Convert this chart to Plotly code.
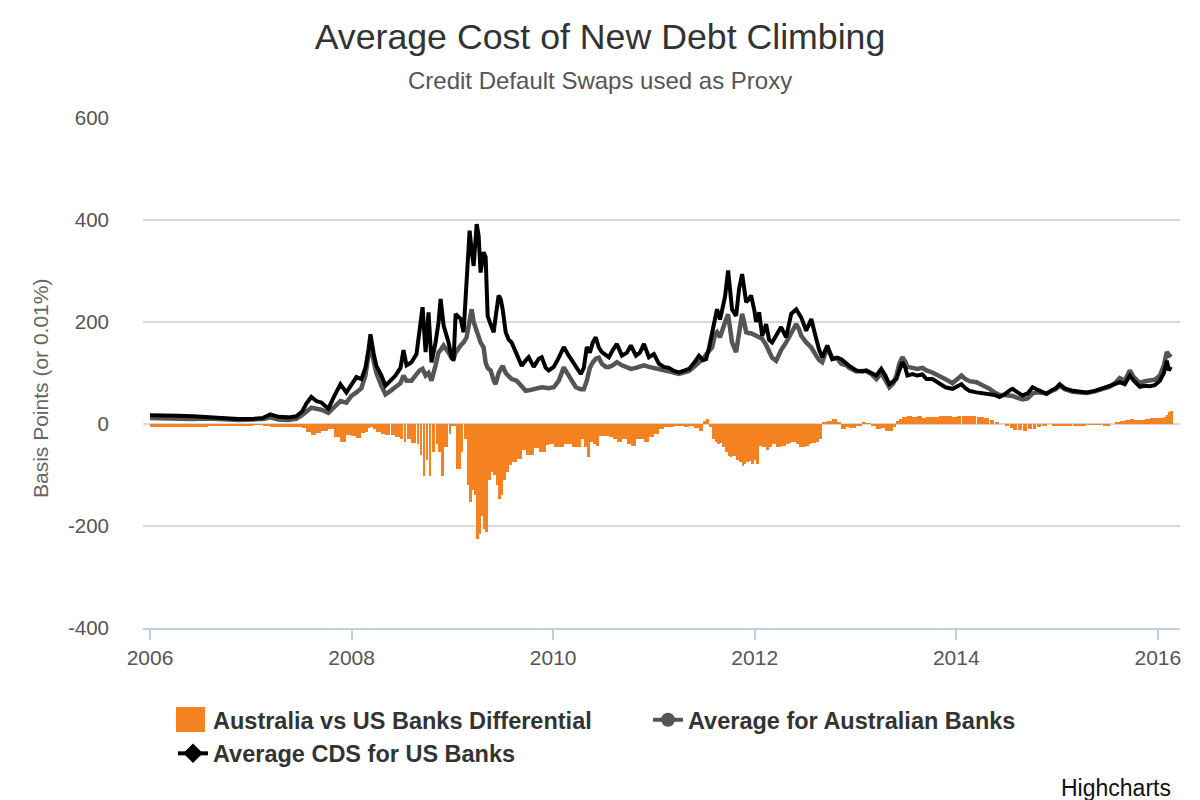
import pandas as pd
import plotly.graph_objects as go

# ---- data (decimal years, basis points) ----
years = [2006.000, 2006.129, 2006.278, 2006.427, 2006.577, 2006.726, 2006.875, 2007.024, 2007.123, 2007.193,
         2007.272, 2007.372, 2007.451, 2007.511, 2007.551, 2007.600, 2007.650, 2007.700, 2007.769, 2007.829,
         2007.889, 2007.948, 2007.998, 2008.048, 2008.097, 2008.137, 2008.167, 2008.187, 2008.217, 2008.246,
         2008.296, 2008.336, 2008.386, 2008.435, 2008.485, 2008.515, 2008.545, 2008.594, 2008.644, 2008.674,
         2008.704, 2008.734, 2008.763, 2008.793, 2008.833, 2008.863, 2008.883, 2008.913, 2008.962, 2008.992,
         2009.012, 2009.032, 2009.082, 2009.111, 2009.141, 2009.171, 2009.191, 2009.211, 2009.241, 2009.260,
         2009.280, 2009.310, 2009.330, 2009.350, 2009.380, 2009.410, 2009.429, 2009.459, 2009.479, 2009.499,
         2009.529, 2009.559, 2009.588, 2009.638, 2009.688, 2009.728, 2009.757, 2009.807, 2009.857, 2009.887,
         2009.926, 2009.956, 2010.006, 2010.056, 2010.105, 2010.155, 2010.185, 2010.225, 2010.274, 2010.304,
         2010.334, 2010.364, 2010.394, 2010.423, 2010.453, 2010.483, 2010.523, 2010.553, 2010.592, 2010.632,
         2010.682, 2010.732, 2010.771, 2010.821, 2010.861, 2010.901, 2010.950, 2011.000, 2011.050, 2011.099,
         2011.149, 2011.199, 2011.249, 2011.298, 2011.348, 2011.398, 2011.447, 2011.487, 2011.517, 2011.547,
         2011.577, 2011.606, 2011.626, 2011.656, 2011.676, 2011.706, 2011.736, 2011.755, 2011.775, 2011.815,
         2011.845, 2011.875, 2011.895, 2011.915, 2011.944, 2011.964, 2011.994, 2012.014, 2012.044, 2012.074,
         2012.113, 2012.143, 2012.173, 2012.213, 2012.262, 2012.312, 2012.342, 2012.362, 2012.412, 2012.441,
         2012.461, 2012.511, 2012.541, 2012.561, 2012.610, 2012.640, 2012.670, 2012.720, 2012.769, 2012.819,
         2012.859, 2012.909, 2012.938, 2013.008, 2013.068, 2013.107, 2013.157, 2013.207, 2013.256, 2013.296,
         2013.336, 2013.376, 2013.406, 2013.435, 2013.465, 2013.495, 2013.515, 2013.565, 2013.614, 2013.664,
         2013.704, 2013.763, 2013.833, 2013.893, 2013.962, 2014.012, 2014.052, 2014.091, 2014.131, 2014.201,
         2014.280, 2014.330, 2014.380, 2014.429, 2014.479, 2014.529, 2014.559, 2014.608, 2014.658, 2014.708,
         2014.757, 2014.797, 2014.847, 2014.897, 2014.946, 2014.986, 2015.026, 2015.076, 2015.155, 2015.225,
         2015.294, 2015.374, 2015.453, 2015.523, 2015.573, 2015.622, 2015.672, 2015.722, 2015.761, 2015.821,
         2015.871, 2015.920, 2015.970, 2016.020, 2016.060, 2016.089, 2016.109, 2016.129]

us_cds = [17, 17, 16, 15, 13, 11, 10, 10, 12, 19,
          14, 13, 15, 25, 40, 53, 45, 42, 30, 55,
          78, 62, 78, 92, 88, 110, 145, 176, 140, 114,
          95, 75, 85, 95, 110, 145, 115, 121, 137, 180,
          229, 141, 219, 121, 160, 200, 245, 193, 160, 130,
          125, 216, 206, 180, 288, 379, 340, 310, 392, 370,
          297, 337, 327, 212, 195, 180, 210, 252, 245, 225,
          180, 165, 160, 137, 114, 125, 131, 112, 128, 131,
          110, 105, 112, 130, 151, 134, 125, 114, 98, 110,
          151, 140, 160, 170, 150, 141, 135, 131, 145, 157,
          134, 140, 154, 134, 140, 157, 131, 137, 118, 112,
          110, 104, 101, 105, 108, 120, 134, 125, 127, 150,
          180, 215, 225, 205, 225, 250, 301, 255, 225, 212,
          265, 294, 270, 239, 245, 252, 225, 200, 219, 173,
          196, 165, 160, 173, 190, 170, 200, 216, 225, 215,
          209, 183, 195, 206, 167, 145, 131, 154, 127, 130,
          127, 118, 114, 105, 103, 105, 100, 95, 108, 95,
          78, 85, 88, 105, 121, 110, 95, 98, 95, 97,
          88, 88, 80, 72, 69, 75, 78, 70, 65, 62,
          60, 58, 57, 53, 58, 66, 69, 62, 56, 60,
          72, 68, 63, 59, 66, 70, 78, 70, 65, 63,
          62, 65, 70, 73, 78, 82, 78, 95, 85, 73,
          75, 74, 76, 85, 100, 124, 105, 112]

aus_avg = [12, 11, 10, 10, 11, 9, 8, 9, 10, 13,
           9, 8, 10, 18, 25, 32, 30, 28, 22, 35,
           45, 42, 55, 62, 70, 95, 135, 160, 125, 100,
           75, 58, 65, 72, 80, 95, 85, 85, 100, 105,
           108, 95, 100, 85, 115, 141, 145, 154, 140, 130,
           128, 140, 154, 160, 170, 200, 225, 200, 180, 170,
           160, 150, 120, 110, 105, 85, 78, 100, 110, 114,
           100, 95, 88, 85, 72, 65, 66, 68, 70, 72,
           71, 70, 72, 85, 111, 95, 82, 72, 68, 68,
           85, 110, 121, 128, 130, 118, 112, 112, 115, 121,
           115, 110, 108, 110, 112, 115, 112, 110, 108, 106,
           105, 101, 98, 100, 104, 112, 120, 128, 136, 145,
           150, 175, 180, 170, 185, 200, 215, 190, 160, 141,
           185, 216, 200, 180, 178, 178, 175, 173, 170, 167,
           155, 141, 130, 124, 145, 160, 170, 180, 196, 185,
           173, 160, 154, 150, 134, 125, 121, 150, 130, 128,
           118, 115, 110, 103, 104, 104, 98, 88, 100, 88,
           72, 80, 95, 118, 131, 122, 112, 110, 108, 110,
           105, 101, 95, 88, 80, 90, 95, 88, 84, 82,
           75, 69, 62, 57, 57, 56, 55, 51, 48, 50,
           60, 62, 62, 60, 65, 68, 75, 68, 63, 61,
           61, 64, 68, 73, 80, 90, 85, 105, 92, 80,
           84, 85, 87, 95, 115, 141, 135, 131]

differential = [-6, -6, -6, -6, -2, -2, -2, -1, -2, -6,
                -5, -5, -5, -8, -15, -22, -18, -14, -10, -25,
                -36, -22, -24, -28, -18, -15, -8, -5, -10, -15,
                -20, -22, -22, -25, -30, -35, -30, -38, -40, -60,
                -101, -70, -101, -55, -40, -55, -101, -45, -20, -3,
                -3, -88, -55, -30, -120, -153, -130, -140, -225, -215,
                -180, -206, -212, -110, -95, -100, -120, -147, -140, -110,
                -95, -80, -75, -69, -50, -60, -61, -48, -55, -55,
                -42, -40, -46, -45, -40, -40, -45, -45, -30, -45,
                -65, -35, -40, -43, -23, -23, -23, -25, -30, -36,
                -30, -40, -43, -30, -30, -36, -25, -20, -10, -5,
                -5, -3, -3, -5, -4, -7, -13, 5, 10, -5,
                -30, -36, -40, -38, -45, -55, -62, -65, -62, -70,
                -75, -82, -78, -75, -72, -78, -70, -78, -43, -45,
                -50, -45, -40, -45, -43, -40, -38, -36, -40, -46,
                -45, -43, -40, -38, -36, -30, 3, 5, 10, 3,
                -10, -5, -7, -3, 2, 1, -2, -10, -8, -13,
                -13, -5, 5, 10, 13, 13, 15, 13, 15, 12,
                14, 14, 15, 15, 14, 16, 15, 16, 16, 14,
                12, 8, 3, 0, -2, -8, -12, -12, -13, -10,
                -10, -6, -2, 0, -2, -2, -3, -3, -2, -2,
                -1, -1, -2, 0, 3, 6, 8, 10, 7, 7,
                9, 11, 11, 12, 14, 17, 23, 25]

y_ticks = [-400, -200, 0, 200, 400, 600]
y_tick_labels = ["-400", "-200", "0", "200", "400", "600"]
x_tick_years = [2006, 2008, 2010, 2012, 2014, 2016]


def to_date(t):
    return pd.Timestamp("2006-01-01") + pd.to_timedelta((t - 2006) * 365.25, unit="D")


dates = [to_date(t) for t in years]
# bar widths span to the next sample (style only)
widths = []
for i in range(len(dates)):
    if i + 1 < len(dates):
        w = (dates[i + 1] - dates[i]).total_seconds() * 1000
    else:
        w = (dates[i] - dates[i - 1]).total_seconds() * 1000
    widths.append(w * 0.97)

ORANGE = "#F58220"
GRAY = "#555555"
BLACK = "#000000"
FONT = "Liberation Sans, Arial, sans-serif"

# page has an 8px body margin: figure is drawn offset by (8, 8) on screen
OFF = 8
FW, FH = 1200 - OFF, 800 - OFF
# plot area in screen pixels
SL, SR, ST, SB = 143, 1180, 118, 628
L, R, T, B = SL - OFF, SR - OFF, ST - OFF, SB - OFF
PW, PH = R - L, B - T


def px_x(p):  # screen px -> paper x
    return (p - OFF - L) / PW


def px_y(p):  # screen px -> paper y
    return (B - (p - OFF)) / PH


fig = go.Figure()
fig.add_trace(go.Bar(x=dates, y=differential, width=widths, offset=0,
                     marker=dict(color=ORANGE, line=dict(width=0)),
                     name="Australia vs US Banks Differential", showlegend=False))
fig.add_trace(go.Scatter(x=dates, y=aus_avg, mode="lines",
                         line=dict(color=GRAY, width=4.5),
                         name="Average for Australian Banks", showlegend=False))
fig.add_trace(go.Scatter(x=dates, y=us_cds, mode="lines",
                         line=dict(color=BLACK, width=4),
                         name="Average CDS for US Banks", showlegend=False))

# legend entries
fig.add_trace(go.Bar(x=[None], y=[None],
                     marker=dict(color=ORANGE, line=dict(color=ORANGE, width=1)),
                     name="Australia vs US Banks Differential"))
fig.add_trace(go.Scatter(x=[None], y=[None], mode="lines+markers",
                         line=dict(color=GRAY, width=4),
                         marker=dict(symbol="circle", size=14, color=GRAY),
                         name="Average for Australian Banks"))
fig.add_trace(go.Scatter(x=[None], y=[None], mode="lines+markers",
                         line=dict(color=BLACK, width=4),
                         marker=dict(symbol="diamond", size=15, color=BLACK),
                         name="Average CDS for US Banks"))

fig.update_layout(
    width=FW, height=FH,
    paper_bgcolor="white", plot_bgcolor="white",
    margin=dict(l=L, r=FW - R, t=T, b=FH - B, autoexpand=False),
    font=dict(family=FONT, color="#666666", size=18),
    bargap=0,
    title=dict(text="Average Cost of New Debt Climbing",
               x=(600 - OFF) / FW, xanchor="center",
               y=1 - (37 - OFF) / FH, yanchor="middle",
               font=dict(family=FONT, size=35.7, color="#333333")),
    legend=dict(orientation="h", x=px_x(173), xanchor="left", y=px_y(698), yanchor="top",
                entrywidth=430, entrywidthmode="pixels", itemwidth=30,
                bgcolor="rgba(0,0,0,0)",
                font=dict(family=FONT, size=23.5, color="#333333", weight="bold"),
                traceorder="normal", tracegroupgap=0),
    xaxis=dict(type="date",
               range=[to_date(2005.93), to_date(2016.22)],
               tickvals=[to_date(y) for y in x_tick_years],
               ticktext=[str(y) for y in x_tick_years],
               showgrid=False, zeroline=False,
               showline=True, linecolor="#C0D0E0", linewidth=1.5,
               ticks="outside", ticklen=10, tickcolor="#C0D0E0", tickwidth=1.5,
               tickfont=dict(size=21, color="#555555")),
    yaxis=dict(range=[-400, 600], tickvals=y_ticks, ticktext=y_tick_labels,
               showgrid=True, gridcolor="#D8D8D8", gridwidth=1.5,
               zeroline=False, showline=False,
               ticks="", ticklabelstandoff=33,
               tickfont=dict(size=20.5, color="#555555")),
    # larger legend swatch for the differential bars (Highcharts style)
    shapes=[dict(type="rect", xref="paper", yref="paper",
                 x0=px_x(176), x1=px_x(205), y0=px_y(707), y1=px_y(732),
                 fillcolor=ORANGE, line=dict(width=0), layer="above")],
    annotations=[
        dict(text="Credit Default Swaps used as Proxy", xref="paper", yref="paper",
             x=px_x(600), y=px_y(80), xanchor="center", yanchor="middle", showarrow=False,
             font=dict(family=FONT, size=24, color="#555555")),
        dict(text="Basis Points (or 0.01%)", xref="paper", yref="paper",
             x=px_x(40), y=px_y(389), xanchor="center", yanchor="middle",
             textangle=-90, showarrow=False,
             font=dict(family=FONT, size=21, color="#666666")),
        dict(text="Highcharts", xref="paper", yref="paper",
             x=px_x(1173), y=px_y(788), xanchor="right", yanchor="middle",
             showarrow=False, font=dict(family=FONT, size=23, color="#111111")),
    ],
)

fig.write_html("out.html")
